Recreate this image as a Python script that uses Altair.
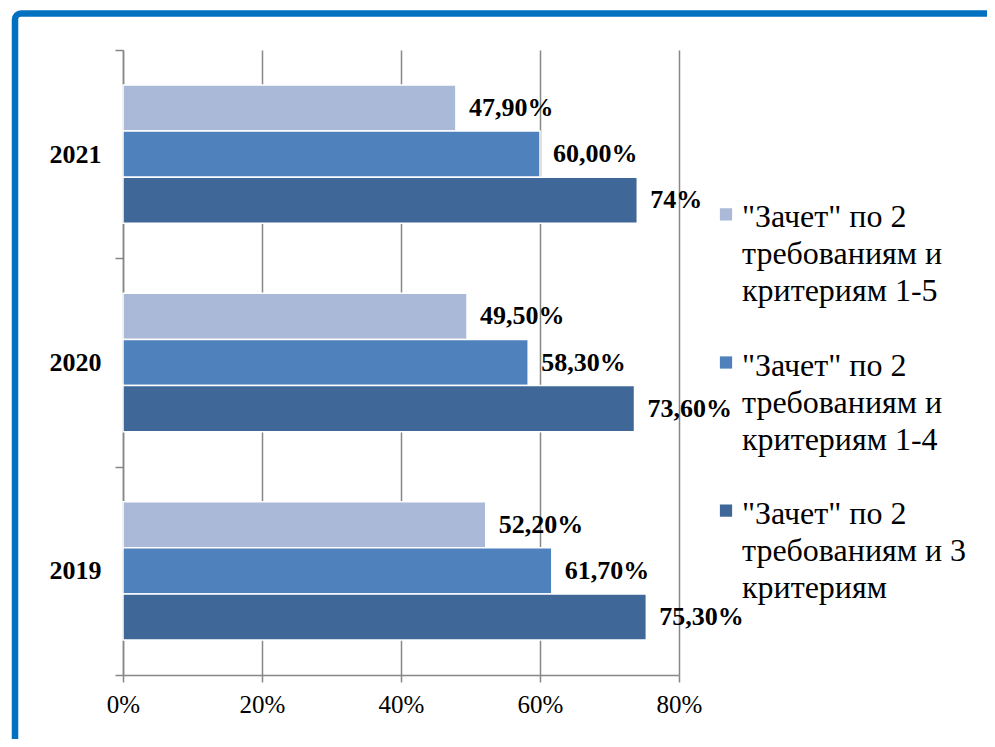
import altair as alt
import pandas as pd

years = ["2021", "2020", "2019"]
series = [
    '"Зачет" по 2\nтребованиям и\nкритериям 1-5',
    '"Зачет" по 2\nтребованиям и\nкритериям 1-4',
    '"Зачет" по 2\nтребованиям и 3\nкритериям',
]
vals_1_5 = [47.9, 49.5, 52.2]
vals_1_4 = [60.0, 58.3, 61.7]
vals_3 = [74.0, 73.6, 75.3]
lab_1_5 = ["47,90%", "49,50%", "52,20%"]
lab_1_4 = ["60,00%", "58,30%", "61,70%"]
lab_3 = ["74%", "73,60%", "75,30%"]
colors = ["#AAB9D7", "#4F81BD", "#3F6899"]
x_ticks = [0, 20, 40, 60, 80]

rows = []
for s, vals, labs in zip(series, [vals_1_5, vals_1_4, vals_3], [lab_1_5, lab_1_4, lab_3]):
    for yr, v, l in zip(years, vals, labs):
        rows.append({"year": yr, "series": s, "value": v, "label": l})
df = pd.DataFrame(rows)

FONT = "'Liberation Serif', 'Times New Roman', Times, serif"
GRAY = "#878787"

color = alt.Color("series:N", scale=alt.Scale(domain=series, range=colors), legend=None)
y_enc = alt.Y(
    "year:N", sort=years,
    scale=alt.Scale(paddingInner=0, paddingOuter=0),
    axis=alt.Axis(title=None, tickBand="extent", tickSize=8, tickColor=GRAY, tickWidth=1.5,
                  domainColor=GRAY, domainWidth=1.5, labelFontSize=26, labelFontWeight="bold",
                  labelPadding=14, labelFont=FONT, labelColor="black", grid=False),
)
yoff = alt.YOffset("series:N", sort=series, scale=alt.Scale(paddingInner=0, paddingOuter=0.76))
x_enc = alt.X(
    "value:Q", scale=alt.Scale(domain=[0, 80]),
    axis=alt.Axis(title=None, values=x_ticks, labelExpr="datum.value + '%'", grid=True,
                  gridColor=GRAY, gridWidth=1.5, domainColor=GRAY, domainWidth=1.5,
                  tickColor=GRAY, tickWidth=1.5, tickSize=7, labelFontSize=25,
                  labelFont=FONT, labelColor="black", labelPadding=10, labelFlush=False),
)

base = alt.Chart(df)
bars = base.mark_bar(stroke="white", strokeWidth=1.5).encode(x=x_enc, y=y_enc, yOffset=yoff, color=color)
labels = base.mark_text(
    align="left", baseline="middle", dx=13, font=FONT, fontSize=26, fontWeight="bold", color="black"
).encode(x="value:Q", y=alt.Y("year:N", sort=years), yOffset=yoff, text="label:N")

frame_df = pd.DataFrame({"f": [0]})
frame = alt.Chart(frame_df).mark_rect(
    filled=False, stroke="#0070C0", strokeWidth=6.5, cornerRadius=6
).encode(x=alt.value(-108), x2=alt.value(900), y=alt.value(-36.5), y2=alt.value(720))

leg_df = pd.DataFrame({"series": series})
ly = alt.Y("series:N", sort=series, scale=alt.Scale(type="band", paddingInner=0, paddingOuter=0.61), axis=None)
leg_sq = alt.Chart(leg_df).mark_square(size=150, opacity=1).encode(x=alt.value(603), y=ly, color=color)
leg_tx = alt.Chart(leg_df).mark_text(
    align="left", baseline="alphabetic", dy=13, lineBreak="\n", lineHeight=37,
    font=FONT, fontSize=32, color="black"
).encode(x=alt.value(619), y=ly, text="series:N")

main = alt.layer(bars, labels)
legend = alt.layer(leg_sq, leg_tx)

chart = (
    alt.layer(frame, main, legend)
    .resolve_scale(y="independent")
    .properties(
        width=556, height=625,
        autosize=alt.AutoSizeParams(type="none"),
        padding={"left": 115, "top": 42, "right": 308, "bottom": 64},
        background="white",
    )
    .configure_view(stroke=None)
    .configure_axis(labelFont=FONT)
    .configure_text(font=FONT)
)

chart.save("out.html", embed_options={"renderer": "svg", "actions": False})
